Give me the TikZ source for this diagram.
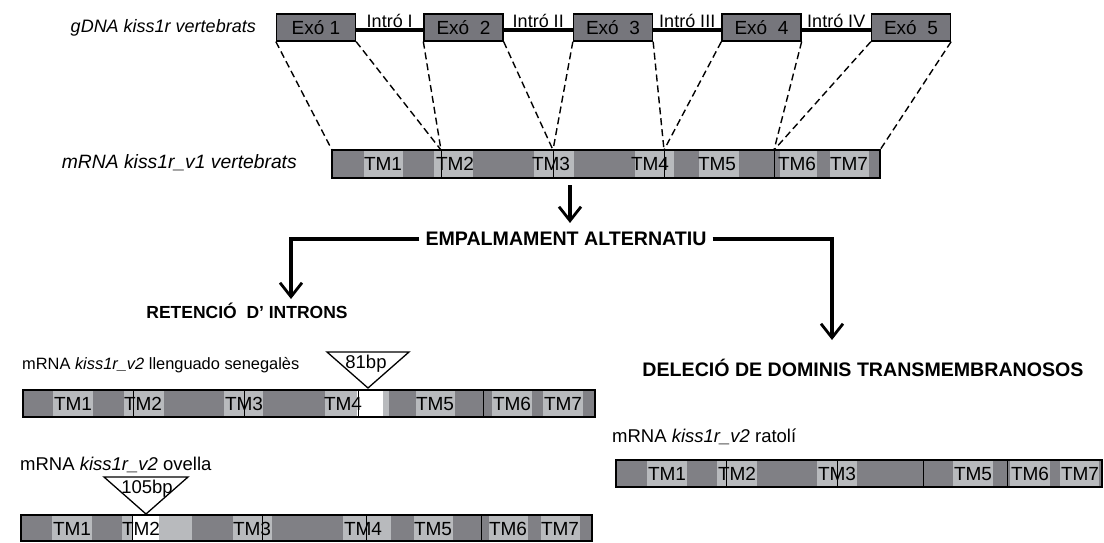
\documentclass[tikz,border=0pt]{standalone}
\usepackage{fontspec}
\setmainfont{Liberation Sans}
\usetikzlibrary{arrows.meta,positioning,calc}
\definecolor{exgray}{RGB}{118,118,124}
\definecolor{bargray}{RGB}{128,128,133}
\definecolor{tmgray}{RGB}{184,186,189}
\tikzset{
  exo/.style={draw=black,line width=1.3pt,fill=exgray,minimum width=79pt,minimum height=27pt,
    inner sep=0pt,font=\fontsize{19}{21}\selectfont},
  intr/.style={font=\fontsize{18}{20}\selectfont,anchor=base,inner sep=0pt},
  bar/.style={draw=black,line width=2pt,fill=bargray,inner sep=0pt,outer sep=0pt,anchor=north west},
  tm/.style={font=\fontsize{19}{21}\selectfont,inner sep=0pt},
  lbl/.style={font=\fontsize{18.5}{20}\selectfont,inner sep=0pt},
  hd/.style={font=\fontsize{19.6}{21}\selectfont\bfseries,inner sep=0pt},
  proj/.style={line width=1.4pt,dash pattern=on 7pt off 4pt},
  arr/.style={line width=3.5pt,-{Straight Barb[length=14pt,width=22pt,line width=2.8pt]}},
  ins/.style={line width=1.3pt,line join=miter},
}

\begin{document}
\begin{tikzpicture}[x=1pt,y=-1pt]
  \useasboundingbox (0,0) rectangle (1104,543);
  % gen
  \node[lbl,anchor=east,font=\fontsize{18}{20}\selectfont] (gdna) at (256,28) {\itshape gDNA kiss1r vertebrats};
  \node[exo] (exo1) at (316,27.5) {Exó 1};
  \node[exo] (exo2) at (463.5,27.5) {Exó~~2};
  \node[exo] (exo3) at (613,27.5) {Exó~~3};
  \node[exo] (exo4) at (761.5,27.5) {Exó~~4};
  \node[exo] (exo5) at (911,27.5) {Exó~~5};
  \foreach \a/\b/\t in {1/2/I,2/3/II,3/4/III,4/5/IV}{
    \draw[line width=4pt] ([yshift=-3pt]exo\a.east) -- ([yshift=-3pt]exo\b.west);
    \node[intr] (in\a) at ($(exo\a.east)!0.5!(exo\b.west)$) {Intró \t};
  }
  % mRNA v1
  \node[lbl,anchor=east,font=\fontsize{19.3}{21}\selectfont] (v1lbl) at (297,163) {\itshape mRNA kiss1r\_v1 vertebrats};
  \node[bar,minimum width=548pt,minimum height=28pt] (v1) at (332,150) {};
  \foreach \a/\b in {364/403,434/473,534/574,635/674,699/739,780/817,830/869}
    \fill[tmgray] (\a,151) rectangle (\b,177);
  \foreach \x [count=\k] in {441,553,664,774}{
    \coordinate (c\k) at (\x,150);
    \draw[line width=1pt] (c\k) -- (\x,178);
  }
  \coordinate (c0) at (v1.north west);
  \coordinate (c5) at (v1.north east);
  \foreach \x/\t in {383/1,455/2,551/3,650/4,717/5,797/6,849/7}
    \node[tm] (v1tm\t) at (\x,164) {TM\t};
  \foreach \e/\l/\r in {1/0/1,2/1/2,3/2/3,4/3/4,5/4/5}{
    \draw[proj] (exo\e.south west) -- (c\l);
    \draw[proj] (exo\e.south east) -- (c\r);
  }
  % empalmament
  \node[hd] (emp) at (566,239) {EMPALMAMENT ALTERNATIU};
  \node[hd,font=\fontsize{17.5}{19}\selectfont\bfseries] (ret) at (247,311) {RETENCIÓ~~D’ INTRONS};
  \node[hd] (del) at (863,368) {DELECIÓ DE DOMINIS TRANSMEMBRANOSOS};
  \coordinate (dn) at (570,185);
  \coordinate (lt) at (291,299);
  \coordinate (rt) at (832,340);
  \draw[arr] (dn) -- ([yshift=9pt]emp.north -| dn);
  \draw[arr] ([xshift=-6pt]emp.west) -| (lt);
  \draw[arr] ([xshift=6pt]emp.east) -| (rt);
  % llenguado
  \node[lbl,anchor=west,font=\fontsize{16.4}{18}\selectfont] (senlbl) at (22,365) {mRNA \textit{kiss1r\_v2} llenguado senegalès};
  \node[bar,minimum width=572pt,minimum height=27pt] (v2s) at (23,390) {};
  \foreach \a/\b in {53/93,124/164,224/263,325/389,416/455,492/532,543/583}
    \fill[tmgray] (\a,391) rectangle (\b,416);
  \fill[white] (357,391) rectangle (383,416);
  \foreach \x in {133,244,358,483}
    \draw[line width=1pt] (\x,390) -- (\x,417);
  \foreach \x/\t in {73/1,143/2,244/3,343/4,435/5,512/6,563/7}
    \node[tm] (stm\t) at (\x,404) {TM\t};
  \coordinate (t1) at (368,388);
  \draw[ins] (327,352) -- (409,352) -- (t1) -- cycle;
  \node[lbl] (bp81) at (366,364) {81bp};
  % ovella
  \node[lbl,anchor=west] (ovlbl) at (20,465) {mRNA \textit{kiss1r\_v2} ovella};
  \node[bar,minimum width=571pt,minimum height=26pt] (v2o) at (21,515) {};
  \foreach \a/\b in {52/92,122/192,233/272,343/391,414/453,489/528,541/580}
    \fill[tmgray] (\a,516) rectangle (\b,540);
  \fill[white] (133,516) rectangle (159,540);
  \foreach \x in {132,262,366,481}
    \draw[line width=1pt] (\x,515) -- (\x,541);
  \foreach \x/\t in {72/1,141/2,252/3,363/4,433/5,508/6,560/7}
    \node[tm] (otm\t) at (\x,529) {TM\t};
  \coordinate (t2) at (146,514);
  \draw[ins] (104,477) -- (188,477) -- (t2) -- cycle;
  \node[lbl] (bp105) at (147,489) {105bp};
  % ratoli
  \node[lbl,anchor=west] (ratlbl) at (612,437) {mRNA \textit{kiss1r\_v2} ratolí};
  \node[bar,minimum width=486pt,minimum height=27pt] (v2r) at (616,460) {};
  \foreach \a/\b in {647/687,717/757,817/857,953/993,1010/1050,1060/1099}
    \fill[tmgray] (\a,461) rectangle (\b,486);
  \foreach \x in {726,837,923,1007}
    \draw[line width=1pt] (\x,460) -- (\x,487);
  \foreach \x/\t in {667/1,737/2,837/3,973/5,1030/6,1080/7}
    \node[tm] (rtm\t) at (\x,474) {TM\t};
\end{tikzpicture}
\end{document}
